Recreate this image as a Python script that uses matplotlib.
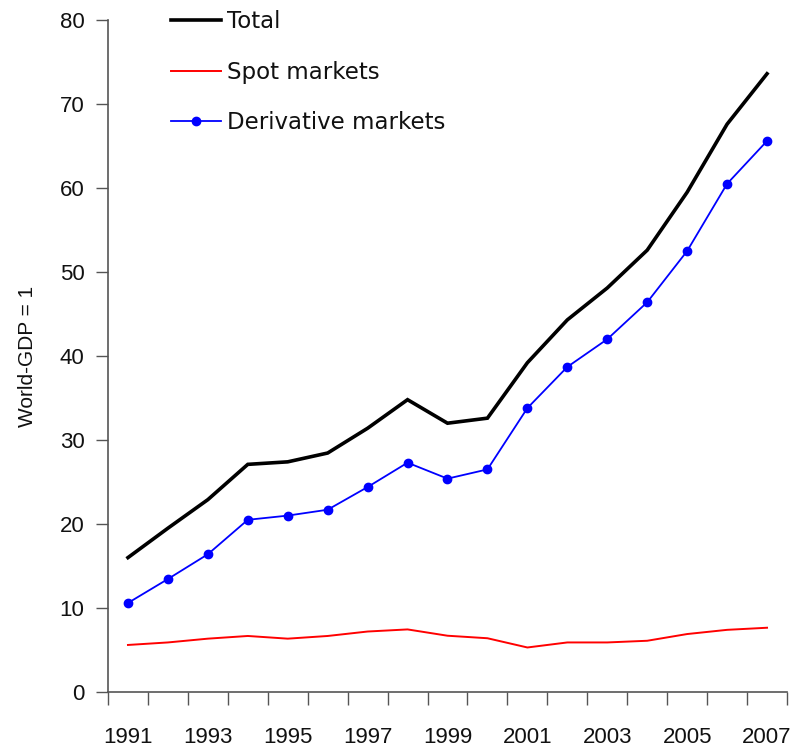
import matplotlib
matplotlib.use("Agg")
import matplotlib.pyplot as plt
import numpy as np

years = list(range(1991, 2008))
total = [16.0, 19.5, 22.9, 27.1, 27.4, 28.45, 31.4, 34.8, 32.0, 32.6, 39.2, 44.3, 48.1, 52.6, 59.5, 67.6, 73.6]
spot = [5.6, 5.9, 6.35, 6.67, 6.35, 6.67, 7.2, 7.45, 6.7, 6.4, 5.3, 5.9, 5.9, 6.1, 6.9, 7.4, 7.65]
deriv = [10.6, 13.45, 16.4, 20.5, 21.0, 21.7, 24.4, 27.3, 25.4, 26.5, 33.8, 38.7, 42.0, 46.4, 52.5, 60.5, 65.6]
year_labels = [str(y) for y in years[::2]]

plt.rcParams['font.family'] = ['Liberation Sans', 'DejaVu Sans']
fig = plt.figure(figsize=(7.94, 7.52), dpi=100)
ax = fig.add_axes([108/794, 1 - 692/752, (787-108)/794, (692-20)/752])

ax.plot(years, total, color='black', lw=2.6, label='Total', solid_joinstyle='miter')
ax.plot(years, spot, color='#ff0000', lw=1.4, label='Spot markets')
ax.plot(years, deriv, color='#0000ff', lw=1.3, marker='o', ms=6, label='Derivative markets')

ax.set_xlim(1990.5, 2007.5)
ax.set_ylim(0, 80)
ax.set_yticks(np.arange(0, 81, 10))
ax.set_xticks(years[::2])
ax.set_xticklabels(year_labels)
ax.set_xticks(np.arange(1990.5, 2008, 1), minor=True)
ax.tick_params(axis='x', which='major', length=0, pad=25, labelsize=16, labelcolor='#111111')
ax.tick_params(axis='x', which='minor', length=9, width=1, color='#555555', direction='out')
ax.tick_params(axis='y', length=9, width=1, color='#555555', direction='out', pad=8, labelsize=16, labelcolor='#111111')

for s in ['top', 'right']:
    ax.spines[s].set_visible(False)
for s in ['left', 'bottom']:
    ax.spines[s].set_color('#555555')
    ax.spines[s].set_linewidth(1.2)

ax.set_ylabel('World-GDP = 1', fontsize=15, labelpad=16, color='#111111')

leg = ax.legend(loc='upper left', bbox_to_anchor=(0.062, 1.045), frameon=False,
                prop={'family': 'DejaVu Sans', 'size': 16.5},
                labelspacing=1.2, handlelength=2.2, handletextpad=0.25)
for t in leg.get_texts():
    t.set_color('#111111')

fig.savefig('out.png', dpi=100)
